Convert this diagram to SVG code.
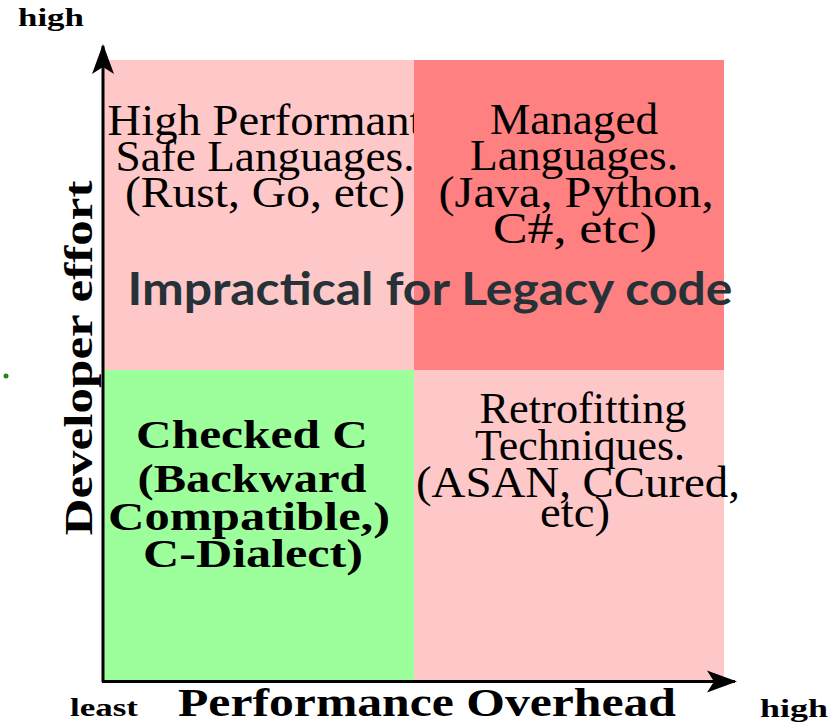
<svg xmlns="http://www.w3.org/2000/svg" width="835" height="724" viewBox="0 0 835 724">
<style>
.q{stroke:none}
.t{font-family:"Liberation Serif","DejaVu Serif",serif;font-size:44px;fill:#000;text-anchor:middle}
.b{font-family:"Liberation Serif","DejaVu Serif",serif;font-size:41px;font-weight:bold;fill:#000;text-anchor:middle}
.s{font-family:"Liberation Serif","DejaVu Serif",serif;font-size:25px;font-weight:bold;fill:#000}
.big{font-family:Lato,"Open Sans","Noto Sans",sans-serif;font-size:46px;font-weight:bold;fill:#263238;text-anchor:middle}
.ax{stroke:#000;stroke-width:3;fill:none}
</style>
<defs>
<marker id="arr" viewBox="0 0 30 24" refX="28" refY="12" markerWidth="30" markerHeight="24" markerUnits="userSpaceOnUse" orient="auto">
<path d="M0,1 L30,12 L0,23 L7,12 Z" fill="#000"/>
</marker>
</defs>
<g id="quadrant-tl"><rect class="q" x="104" y="60" width="310" height="310" fill="#ffc8c8"/>
<text class="t" x="265" y="135" textLength="315" lengthAdjust="spacingAndGlyphs">High Performant</text>
<text class="t" x="265" y="171" textLength="299" lengthAdjust="spacingAndGlyphs">Safe Languages.</text>
<text class="t" x="265" y="207" textLength="280" lengthAdjust="spacingAndGlyphs">(Rust, Go, etc)</text>
</g>
<g id="quadrant-tr"><rect class="q" x="414" y="60" width="310" height="310" fill="#ff8080"/>
<text class="t" x="574" y="134" textLength="168" lengthAdjust="spacingAndGlyphs">Managed</text>
<text class="t" x="574" y="170" textLength="208" lengthAdjust="spacingAndGlyphs">Languages.</text>
<text class="t" x="576" y="207" textLength="275" lengthAdjust="spacingAndGlyphs">(Java, Python,</text>
<text class="t" x="575" y="243" textLength="164" lengthAdjust="spacingAndGlyphs">C#, etc)</text>
</g>
<g id="quadrant-bl"><rect class="q" x="104" y="370" width="310" height="311" fill="#9cff9c"/>
<text class="b" x="252" y="448" textLength="232" lengthAdjust="spacingAndGlyphs">Checked C</text>
<text class="b" x="252" y="492" textLength="229" lengthAdjust="spacingAndGlyphs">(Backward</text>
<text class="b" x="249" y="530" textLength="282" lengthAdjust="spacingAndGlyphs">Compatible,)</text>
<text class="b" x="253" y="567" textLength="220" lengthAdjust="spacingAndGlyphs">C-Dialect)</text>
</g>
<g id="quadrant-br"><rect class="q" x="414" y="370" width="310" height="311" fill="#ffc8c8"/>
<text class="t" x="583" y="423" textLength="207" lengthAdjust="spacingAndGlyphs">Retrofitting</text>
<text class="t" x="580" y="460" textLength="210" lengthAdjust="spacingAndGlyphs">Techniques.</text>
<text class="t" x="578" y="497" textLength="324" lengthAdjust="spacingAndGlyphs">(ASAN, CCured,</text>
<text class="t" x="575" y="527" textLength="70" lengthAdjust="spacingAndGlyphs">etc)</text>
</g>
<g id="banner"><text class="big" x="430" y="305" textLength="605" lengthAdjust="spacingAndGlyphs">Impractical for Legacy code</text></g>
<g id="connectors">
<line class="ax" x1="103" y1="682" x2="103" y2="46" marker-end="url(#arr)"/>
<line class="ax" x1="102" y1="681.5" x2="735" y2="681.5" marker-end="url(#arr)"/>
</g>
<g id="labels">
<text class="s" x="18" y="26" textLength="66" lengthAdjust="spacingAndGlyphs">high</text>
<text class="s" x="70" y="716" textLength="68" lengthAdjust="spacingAndGlyphs">least</text>
<text class="s" x="760" y="717" textLength="68" lengthAdjust="spacingAndGlyphs">high</text>
<text class="b" x="427" y="716" textLength="498" lengthAdjust="spacingAndGlyphs">Performance Overhead</text>
<text class="b" transform="translate(92,358) rotate(-90)" x="0" y="0" textLength="355" lengthAdjust="spacingAndGlyphs">Developer effort</text>
</g>
<circle cx="6" cy="376" r="2.5" fill="#2e7d1e"/>
</svg>
